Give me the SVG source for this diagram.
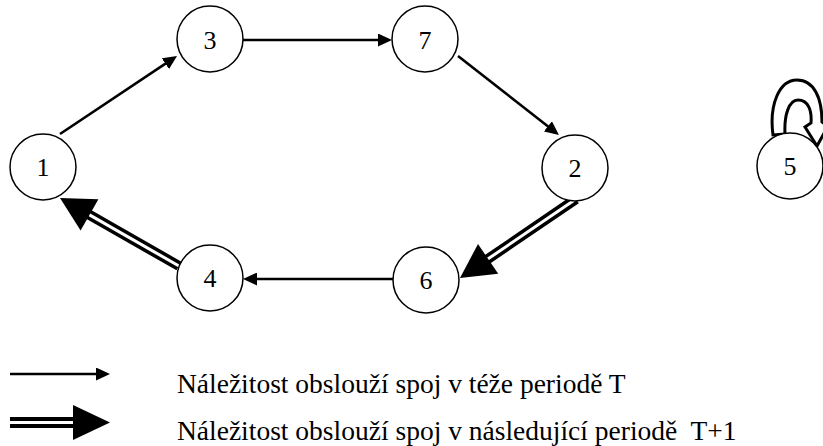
<svg xmlns="http://www.w3.org/2000/svg" width="823" height="446" viewBox="0 0 823 446">
  <style>
    .node circle { fill: #fff; stroke: #000; stroke-width: 1.5; }
    .node text { font-family: "Liberation Serif", "DejaVu Serif", serif; font-size: 26px; text-anchor: middle; fill: #000; }
    .single { stroke: #000; stroke-width: 2.6; fill: none; marker-end: url(#head); }
    .dbl-outer { stroke: #000; stroke-width: 10; fill: none; }
    .dbl-inner { stroke: #fff; stroke-width: 3; fill: none; }
    .bighead { fill: #000; stroke: none; }
    .legend { font-family: "Liberation Serif", "DejaVu Serif", serif; font-size: 27.5px; fill: #000; }
  </style>
  <defs>
    <marker id="head" markerUnits="userSpaceOnUse" markerWidth="14" markerHeight="13" refX="10" refY="6.5" orient="auto">
      <path d="M0,0 L14,6.5 L0,13 Z" fill="#000"/>
    </marker>
  </defs>

  <rect width="823" height="446" fill="#fff"/>

  <!-- connectors -->
  <g id="connectors">
    <!-- same-period links -->
    <line class="single" x1="60" y1="134" x2="173.7" y2="58.2"/>
    <line class="single" x1="243" y1="40" x2="388" y2="40"/>
    <line class="single" x1="458" y1="56" x2="555.8" y2="132.5"/>
    <line class="single" x1="393" y1="279" x2="247" y2="279"/>

    <!-- next-period link 2 -> 6 -->
    <g id="e2-6">
      <line class="dbl-outer" x1="576" y1="199" x2="484.8" y2="261.1"/>
      <line class="dbl-inner" x1="576" y1="199" x2="484.8" y2="261.1"/>
      <polygon class="bighead" points="460,278 498.2,273.8 478,244"/>
    </g>
    <!-- next-period link 4 -> 1 -->
    <g id="e4-1">
      <line class="dbl-outer" x1="179" y1="266" x2="86" y2="212.9"/>
      <line class="dbl-inner" x1="179" y1="266" x2="86" y2="212.9"/>
      <polygon class="bighead" points="60,198 98.4,199.3 80.6,230.5"/>
    </g>
    <!-- next-period self loop on 5 -->
    <path id="e5-5" d="M773,135 C769,105 779,80 797,80 C814,80 822,98 822,122 L828,126 L817,146 L805,127 L811,123 C812,110 808,100 798,100 C789,100 784,115 785,134 Z" fill="#fff" stroke="#000" stroke-width="3" stroke-linejoin="miter"/>
  </g>

  <!-- nodes -->
  <g id="node1" class="node"><circle cx="43" cy="167" r="33"/><text x="43" y="176">1</text></g>
  <g id="node3" class="node"><circle cx="210" cy="39" r="33"/><text x="210" y="49">3</text></g>
  <g id="node7" class="node"><circle cx="425" cy="39" r="33"/><text x="425" y="49">7</text></g>
  <g id="node2" class="node"><circle cx="575" cy="168" r="33"/><text x="575" y="177">2</text></g>
  <g id="node6" class="node"><circle cx="426" cy="280" r="33"/><text x="426" y="289">6</text></g>
  <g id="node4" class="node"><circle cx="210" cy="278" r="33"/><text x="210" y="287">4</text></g>
  <g id="node5" class="node"><circle cx="790" cy="166" r="33"/><text x="790" y="175">5</text></g>

  <!-- legend -->
  <g id="legend">
    <line class="single" x1="10" y1="374" x2="106" y2="374"/>
    <line class="dbl-outer" x1="10" y1="422.5" x2="76" y2="422.5" style="stroke-width:11"/>
    <line class="dbl-inner" x1="10" y1="422.5" x2="76" y2="422.5"/>
    <polygon class="bighead" points="73,405 110,422.5 73,440"/>
    <text class="legend" x="177" y="393">Náležitost obslouží spoj v téže periodě T</text>
    <text class="legend" x="177" y="440" xml:space="preserve">Náležitost obslouží spoj v následující periodě  T+1</text>
  </g>
</svg>
